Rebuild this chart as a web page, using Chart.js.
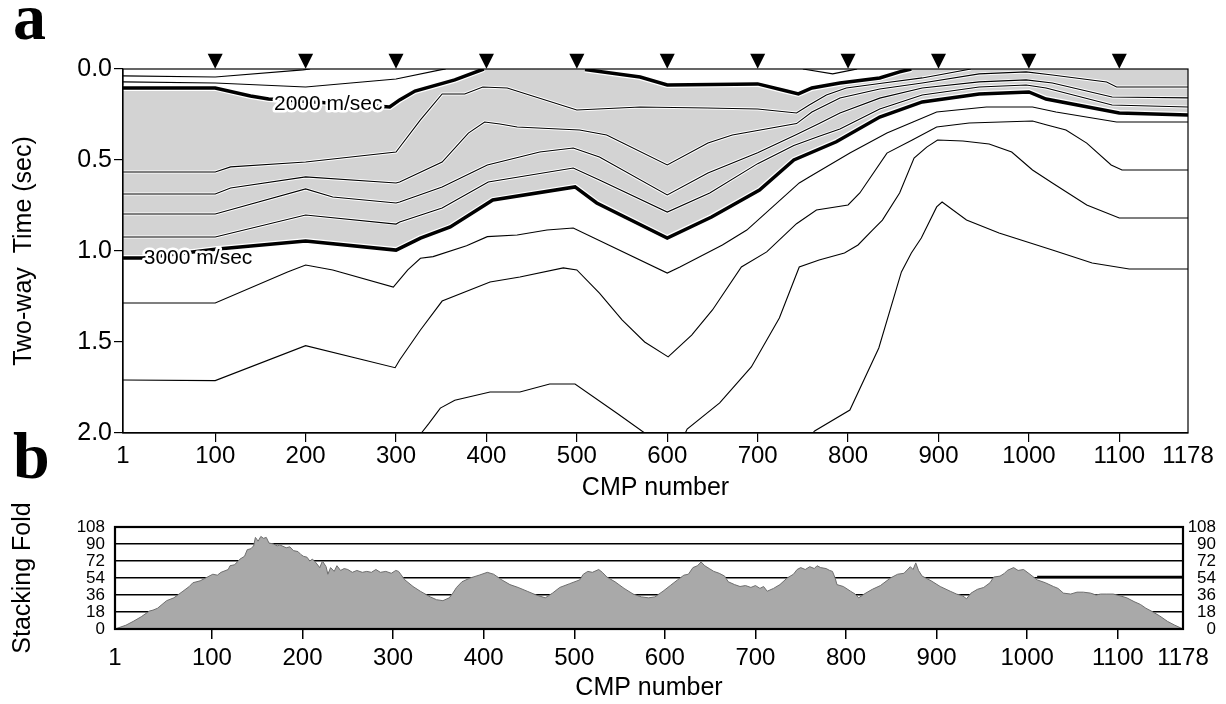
<!DOCTYPE html>
<html>
<head>
<meta charset="utf-8">
<script src="https://cdn.jsdelivr.net/npm/chart.js@4.4.1/dist/chart.umd.min.js"></script>
<style>
  html, body { margin: 0; padding: 0; background: #fff; }
  #top { position: absolute; left: 0; top: 0; width: 1226px; height: 510px; }
  #bot { position: absolute; left: 0; top: 490px; width: 1226px; height: 214px; }
</style>
</head>
<body>
<div id="top"><canvas id="velChart"></canvas></div>
<div id="bot"><canvas id="foldChart"></canvas></div>
<script>
// 축 눈금
const cmpTicks = [100, 200, 300, 400, 500, 600, 700, 800, 900, 1000, 1100];
const cmpEdgeLabels = ['1', '1178'];
const timeTicks = [0, 0.5, 1.0, 1.5, 2.0];
const foldTicks = [0, 18, 36, 54, 72, 90, 108];

// 상단 역삼각형 표시 (CMP)
const markerCmp = [100, 200, 300, 400, 500, 600, 700, 800, 900, 1000, 1100];
const markerTime = -0.042;

// 속도 등고선 [CMP, 왕복주시 sec]
const v2000a = [[-2,.104],[100,.104],[139,.148],[159,.165],[293,.209],[304,.170],[321,.121],[365,.060],[397,0]];
const v2000b = [[509,.003],[570,.044],[600,.088],[700,.082],[732,.121],[745,.137],[760,.104],[791,.077],[835,.049],[857,.016],[870,0]];
const v3000 = [[-2,1.038],[20,1.038],[100,.99],[200,.945],[300,.995],[327,.929],[360,.868],[407,.720],[498,.648],[522,.736],[600,.929],[649,.813],[702,.665],[740,.50],[787,.40],[835,.264],[882,.181],[945,.137],[1000,.126],[1019,.165],[1100,.242],[1178,.253]];

const top1 = [[-2,.038],[100,.044],[197,.005],[205,0]];
const top2 = [[-2,.071],[100,.077],[200,.099],[300,.055],[349,.005],[355,0]];
const dipTop = [[750,0],[783,.027],[805,.005],[810,0]];

const lineC = [[-2,.566],[100,.566],[117,.538],[200,.511],[300,.456],[304,.43],[327,.28],[351,.137],[376,.137],[396,.099],[423,.104],[500,.225],[570,.209],[644,.214],[700,.22],[743,.242],[757,.198],[776,.143],[798,.104],[835,.080],[882,.049],[936,0]];
const lineD = [[-2,.687],[100,.687],[117,.654],[200,.593],[300,.626],[304,.621],[351,.511],[380,.352],[398,.291],[415,.302],[434,.319],[503,.335],[533,.363],[600,.527],[645,.407],[672,.363],[743,.300],[760,.236],[791,.159],[835,.110],[882,.077],[945,.027],[997,.016],[1026,.033],[1086,.071],[1097,.099],[1178,.099]];
const lineE = [[-2,.797],[100,.797],[200,.659],[230,.703],[300,.736],[304,.731],[351,.648],[401,.527],[459,.456],[496,.434],[525,.484],[600,.692],[645,.571],[700,.46],[743,.36],[768,.30],[791,.242],[835,.160],[882,.104],[945,.071],[997,.060],[1026,.077],[1092,.154],[1178,.159]];
const lineF = [[-2,.923],[100,.923],[200,.802],[300,.852],[304,.841],[351,.764],[402,.621],[496,.544],[525,.610],[600,.786],[647,.681],[700,.52],[740,.42],[768,.37],[791,.33],[835,.22],[882,.143],[945,.099],[997,.088],[1019,.104],[1092,.198],[1178,.209]];

const w1 = [[-2,1.286],[100,1.286],[180,1.115],[200,1.077],[230,1.104],[297,1.198],[313,1.104],[327,1.04],[341,1.031],[378,.971],[401,.921],[434,.912],[467,.885],[496,.874],[600,1.121],[614,1.088],[661,.967],[688,.885],[746,.626],[757,.593],[802,.462],[843,.352],[898,.236],[953,.209],[1004,.209],[1030,.236],[1097,.291],[1178,.291]];
const w2 = [[-2,1.709],[100,1.712],[200,1.52],[299,1.641],[304,1.599],[327,1.434],[351,1.275],[404,1.170],[437,1.143],[485,1.093],[500,1.104],[525,1.231],[550,1.379],[575,1.5],[601,1.582],[627,1.462],[650,1.324],[682,1.088],[710,1.005],[743,.85],[765,.775],[800,.747],[813,.681],[843,.462],[871,.390],[898,.319],[934,.297],[1004,.286],[1020,.308],[1041,.335],[1064,.407],[1091,.527],[1103,.555],[1178,.555]];
const w3 = [[328,2.0],[336,1.95],[349,1.863],[365,1.82],[404,1.775],[437,1.775],[470,1.731],[498,1.731],[544,1.89],[575,2.0]];
const w4 = [[620,2.0],[622,1.978],[658,1.835],[693,1.637],[724,1.368],[746,1.088],[768,1.049],[796,1.011],[811,.967],[827,.885],[838,.830],[857,.681],[873,.489],[887,.429],[899,.390],[927,.396],[956,.412],[981,.456],[1004,.555],[1026,.626],[1064,.747],[1100,.819],[1178,.819]];
const w5 = [[761,2.0],[763,1.989],[802,1.874],[834,1.533],[859,1.115],[870,1.011],[881,.929],[898,.758],[904,.731],[931,.830],[967,.901],[1026,.995],[1070,1.066],[1111,1.099],[1178,1.099]];

const contourLabels = [
  { text: '2000 m/sec', cmp: 225, t: .192 },
  { text: '3000 m/sec', cmp: 81, t: 1.038 }
];

// 중합 횟수 [CMP, fold]
const foldData = [[-7,0],[5,4],[13,8],[22,13],[31,19],[35,20],[40,22],[50,30],[58,33],[68,40],[75,45],[79,49],[87,51],[95,55],[101,58],[106,57],[110,60],[118,63],[120,67],[125,68],[131,74],[136,77],[139,84],[143,85],[146,88],[148,97],[151,93],[154,98],[157,96],[160,97],[163,91],[168,90],[172,88],[175,89],[182,86],[186,87],[190,83],[195,82],[198,79],[201,77],[205,76],[208,72],[211,74],[215,70],[219,65],[222,72],[226,66],[228,58],[231,65],[235,61],[238,67],[242,62],[246,64],[250,63],[255,60],[260,62],[266,60],[271,61],[276,60],[281,63],[286,60],[292,61],[298,59],[303,62],[306,61],[313,52],[322,45],[330,40],[341,34],[348,31],[355,30],[362,33],[366,38],[370,44],[376,50],[385,54],[395,57],[404,60],[411,58],[420,52],[429,47],[438,44],[448,40],[458,36],[468,33],[476,38],[484,44],[495,48],[506,52],[510,58],[515,61],[520,60],[527,63],[531,60],[536,55],[545,50],[555,43],[565,37],[574,34],[582,33],[589,34],[598,40],[606,46],[614,52],[621,57],[626,58],[631,65],[636,67],[640,71],[644,67],[649,64],[654,61],[660,59],[666,56],[670,50],[677,47],[683,45],[689,46],[695,44],[700,46],[705,43],[709,45],[713,40],[720,43],[727,47],[735,54],[742,58],[746,63],[750,65],[755,63],[760,66],[765,64],[768,67],[772,65],[778,64],[782,62],[785,61],[788,54],[790,47],[797,45],[805,40],[810,37],[814,33],[820,37],[829,42],[838,46],[849,54],[857,58],[864,59],[871,66],[874,63],[877,70],[880,62],[884,56],[894,51],[904,45],[915,40],[922,37],[929,35],[933,32],[938,38],[945,42],[952,44],[959,49],[963,55],[970,56],[975,59],[978,62],[985,65],[990,62],[996,63],[1003,58],[1011,52],[1020,49],[1029,45],[1034,43],[1040,38],[1048,37],[1055,39],[1062,39],[1070,38],[1076,36],[1081,37],[1088,37],[1095,37],[1103,35],[1110,33],[1118,29],[1125,26],[1131,22],[1137,19],[1146,14],[1155,8],[1163,4],[1172,0]];
const foldMark = [[1011,55],[1172,55]];

const FONT = "'Liberation Sans', Arial, Helvetica, sans-serif";
const xy = a => a.map(p => ({ x: p[0], y: p[1] }));
const line = (arr, color, width, order) => ({
  data: xy(arr), borderColor: color, borderWidth: width, order: order,
  pointRadius: 0, tension: 0, fill: false
});
const edgeLabel = (v, i, arr) => i === 0 ? cmpEdgeLabels[0] : (i === arr.length - 1 ? cmpEdgeLabels[1] : String(v));
const edgeTickColor = c => (c.index === 0 || c.index === cmpTicks.length + 1) ? 'rgba(0,0,0,0)' : '#000';

// (a) 속도 단면
const velDatasets = [
  { data: xy([...v2000a, ...v2000b, [1178, 0]]), fill: 1, backgroundColor: '#d3d3d3',
    borderWidth: 0, pointRadius: 0, tension: 0, order: 10 },
  line(v3000, '#000', 3.5, 3)
];
[v2000a, v2000b].forEach(a => velDatasets.push(line(a, '#000', 3.5, 3)));
[v2000a, v2000b, v3000].forEach(a => velDatasets.push(line(a, '#fff', 6, 6)));
[lineC, lineD, lineE, lineF].forEach(a => velDatasets.push(line(a, '#fff', 3, 5)));
[top1, top2, dipTop, lineC, lineD, lineE, lineF, w1, w2, w3, w4, w5]
  .forEach(a => velDatasets.push(line(a, '#000', 1.1, 4)));

const velDecor = {
  id: 'velDecor',
  afterDatasetsDraw(chart) {
    const { ctx, chartArea: a, scales: { x, y } } = chart;
    ctx.save();
    ctx.strokeStyle = '#000';
    ctx.lineWidth = 1.2;
    ctx.strokeRect(a.left, a.top, a.right - a.left, a.bottom - a.top);
    // 측점 표시 (역삼각형)
    ctx.fillStyle = '#000';
    markerCmp.forEach(c => {
      const px = x.getPixelForValue(c), py = y.getPixelForValue(markerTime);
      ctx.beginPath();
      ctx.moveTo(px - 7.5, py - 7.5);
      ctx.lineTo(px + 7.5, py - 7.5);
      ctx.lineTo(px, py + 7.5);
      ctx.closePath();
      ctx.fill();
    });
    ctx.font = '21px ' + FONT;
    ctx.textAlign = 'center';
    ctx.textBaseline = 'middle';
    ctx.lineJoin = 'round';
    contourLabels.forEach(l => {
      const px = x.getPixelForValue(l.cmp), py = y.getPixelForValue(l.t);
      ctx.lineWidth = 5;
      ctx.strokeStyle = '#fff';
      ctx.strokeText(l.text, px, py);
      ctx.fillStyle = '#000';
      ctx.fillText(l.text, px, py);
    });
    ctx.font = "bold 66px 'Liberation Serif', 'Times New Roman', serif";
    ctx.textAlign = 'left';
    ctx.textBaseline = 'alphabetic';
    ctx.fillStyle = '#000';
    ctx.fillText('a', 13, 39);
    ctx.fillText('b', 13, 478);
    ctx.restore();
  }
};

new Chart(document.getElementById('velChart'), {
  type: 'line',
  data: { datasets: velDatasets },
  options: {
    responsive: true, maintainAspectRatio: false, animation: false, events: [],
    layout: { padding: { left: 0, right: 38, top: 69, bottom: 0 } },
    plugins: { legend: { display: false }, tooltip: { enabled: false } },
    scales: {
      x: {
        type: 'linear', min: -2, max: 1176,
        afterBuildTicks: s => { s.ticks = [s.min, ...cmpTicks, s.max].map(v => ({ value: v })); },
        afterFit: s => { s.height = 77; },
        ticks: { autoSkip: false, maxRotation: 0, padding: 0, color: '#000',
                 font: { size: 24, family: FONT }, callback: edgeLabel },
        grid: { drawOnChartArea: false, tickLength: 9, lineWidth: 1.2, color: edgeTickColor },
        border: { color: '#000', width: 1.2 },
        title: { display: true, text: 'CMP number', color: '#000',
                 font: { size: 25, family: FONT }, padding: { top: 0, bottom: 7 } }
      },
      y: {
        type: 'linear', reverse: true, min: 0, max: 2,
        afterBuildTicks: s => { s.ticks = timeTicks.map(v => ({ value: v })); },
        afterFit: s => { s.width = 123; },
        ticks: { autoSkip: false, padding: 2, color: '#000', font: { size: 25, family: FONT },
                 callback: v => v.toFixed(1) },
        grid: { drawOnChartArea: false, tickLength: 9, lineWidth: 1.2, color: '#000' },
        border: { color: '#000', width: 1.2 },
        title: { display: true, text: 'Two-way  Time (sec)', color: '#000',
                 font: { size: 25, family: FONT }, padding: { top: 9, bottom: 0 } }
      }
    }
  },
  plugins: [velDecor]
});

// (b) 중합 횟수
const foldFrame = {
  id: 'foldFrame',
  afterDraw(chart) {
    const { ctx, chartArea: a } = chart;
    ctx.save();
    ctx.strokeStyle = '#000';
    ctx.lineWidth = 2.2;
    ctx.strokeRect(a.left, a.top, a.right - a.left, a.bottom - a.top);
    ctx.restore();
  }
};

new Chart(document.getElementById('foldChart'), {
  type: 'line',
  data: {
    datasets: [
      { data: xy(foldData), fill: 'origin', backgroundColor: '#a9a9a9', borderColor: '#6e6e6e',
        borderWidth: 1, pointRadius: 0, tension: 0, order: 2 },
      line(foldMark, '#000', 2.5, 1)
    ]
  },
  options: {
    responsive: true, maintainAspectRatio: false, animation: false, events: [],
    layout: { padding: { left: 0, right: 10, top: 37, bottom: 0 } },
    plugins: { legend: { display: false }, tooltip: { enabled: false } },
    scales: {
      x: {
        type: 'linear', min: -7, max: 1172,
        afterBuildTicks: s => { s.ticks = [s.min, ...cmpTicks, s.max].map(v => ({ value: v })); },
        afterFit: s => { s.height = 75; },
        ticks: { autoSkip: false, maxRotation: 0, padding: 4.6, color: '#000',
                 font: { size: 24, family: FONT }, callback: edgeLabel },
        grid: { drawOnChartArea: false, tickLength: 10, lineWidth: 1.5, color: edgeTickColor },
        border: { color: '#000', width: 2 },
        title: { display: true, text: 'CMP number', color: '#000',
                 font: { size: 25, family: FONT }, padding: { top: 0, bottom: 1 } }
      },
      y: {
        type: 'linear', min: 0, max: 108, z: 1,
        afterBuildTicks: s => { s.ticks = foldTicks.map(v => ({ value: v })); },
        afterFit: s => { s.width = 115; },
        ticks: { autoSkip: false, padding: 10, color: '#000', font: { size: 17, family: FONT } },
        grid: { drawTicks: false, color: '#000', lineWidth: 1.5 },
        border: { display: false },
        title: { display: true, text: 'Stacking Fold', color: '#000',
                 font: { size: 25, family: FONT }, padding: { top: 8, bottom: 0 } }
      },
      y2: {
        type: 'linear', position: 'right', min: 0, max: 108,
        afterBuildTicks: s => { s.ticks = foldTicks.map(v => ({ value: v })); },
        afterFit: s => { s.width = 33; },
        ticks: { autoSkip: false, padding: 0, crossAlign: 'far', color: '#000',
                 font: { size: 17, family: FONT } },
        grid: { display: false, drawTicks: false },
        border: { display: false }
      }
    }
  },
  plugins: [foldFrame]
});
</script>
</body>
</html>
